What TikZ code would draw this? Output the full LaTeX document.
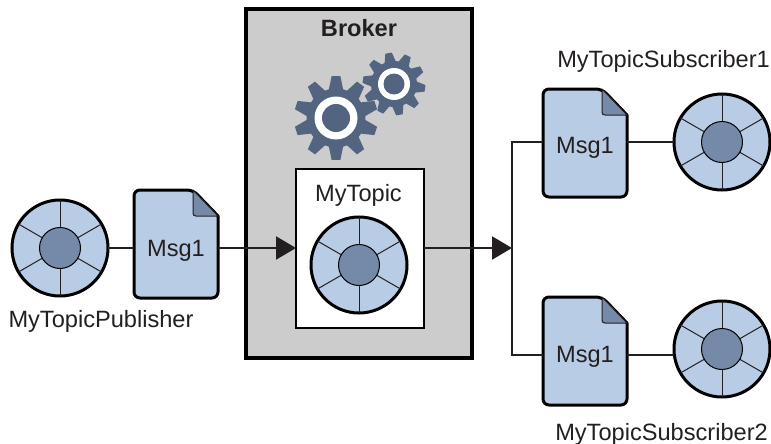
\documentclass[tikz,border=0pt]{standalone}
\usepackage{fontspec}
\setmainfont{Liberation Sans}
\usepackage{xcolor}
\usetikzlibrary{positioning,arrows.meta,calc}
\definecolor{inkdark}{HTML}{231F20}
\definecolor{brokergray}{HTML}{CCCCCC}
\definecolor{msgblue}{HTML}{B9CCE6}
\definecolor{hubblue}{HTML}{7589A8}
\definecolor{gearblue}{HTML}{52647F}
\tikzset{
  wire/.style={draw=inkdark, line width=2.2pt},
  flow/.style={wire, -{Triangle[length=20pt,width=23pt]}},
  wheelrim/.style={circle, draw=black, fill=msgblue, line width=3pt, minimum size=96pt, inner sep=0pt, outer sep=0pt},
  wheelhub/.style={circle, draw=black, fill=hubblue, line width=1pt, minimum size=41pt, inner sep=0pt},
  spoke/.style={draw=inkdark, line width=1pt},
  msgnode/.style={minimum width=84pt, minimum height=108pt, inner sep=0pt, outer sep=0pt},
  caption/.style={text=inkdark, inner sep=0pt, anchor=base}
}
\newcommand{\topicwheel}[2]{
  \node[wheelrim] (#1) at (#2) {};
  \foreach \a in {30,90,...,330}{\draw[spoke] (#1.center) -- (#1.\a);}
  \node[wheelhub] (#1hub) at (#1) {};
}
\newcommand{\msgdoc}[3]{
  \begin{scope}[shift={(#2)}]
    \path[draw=black, fill=msgblue, line width=3pt, line join=round, rounded corners=6pt] (-42,0) -- (-42,-54) -- (17,-54) [sharp corners] -- (42,-28) [rounded corners=6pt] -- (42,54) -- (-42,54) -- cycle;
    \path[draw=inkdark, fill=hubblue, line width=1pt, line join=round] (17,-54) -- (17,-31) .. controls (17,-29) and (18,-28) .. (20,-28) -- (42,-28) -- cycle;
    \node[msgnode] (#1) at (0,0) {};
    \node[caption] (#1text) at (0,#3) {Msg1};
  \end{scope}
}
\newcommand{\gearwheel}[6]{
  \begin{scope}[shift={(#1)}]
    \fill[gearblue] (#2-14:#3) \foreach \k in {0,...,9}{ -- (#2+\k*36-14:#3) -- (#2+\k*36-6:#4) -- (#2+\k*36+6:#4) -- (#2+\k*36+14:#3)} -- cycle;
    \fill[white] (0,0) circle[radius=#5];
    \fill[gearblue] (0,0) circle[radius=#6];
  \end{scope}
}
\begin{document}
\begin{tikzpicture}[x=1pt, y=-1pt, font=\fontsize{23.6}{28}\selectfont]
  \useasboundingbox (0,0) rectangle (771,444);
  \node[draw=black, fill=brokergray, line width=4pt, minimum width=226pt, minimum height=349pt, inner sep=0pt, outer sep=0pt] (broker) at (359,183.5) {};
  \node[caption, font=\fontsize{23.6}{28}\selectfont\bfseries] (brokerlabel) at (359,37) {Broker};
  \gearwheel{394,84}{-100}{23}{31.5}{16}{10.5}
  \gearwheel{336,118}{90}{29.5}{42}{21.5}{14}
  \node[draw=black, fill=white, line width=2.4pt, minimum width=128pt, minimum height=159pt, inner sep=0pt, outer sep=0pt] (topicbox) at (360,248.5) {};
  \node[caption] (topiclabel) at (358.5,201) {MyTopic};
  \topicwheel{topicwheel}{359,265}

  \topicwheel{pubwheel}{60,248}
  \msgdoc{pubmsg}{176,244}{12}
  \node[caption] (publabel) at (101,327.5) {MyTopicPublisher};

  \msgdoc{submsga}{585,143}{10}
  \topicwheel{subwheela}{722,142}
  \node[caption] (sublabela) at (663.5,67) {MyTopicSubscriber1};

  \msgdoc{submsgb}{585,351}{11}
  \topicwheel{subwheelb}{722,349}
  \node[caption] (sublabelb) at (661.5,440) {MyTopicSubscriber2};

  \coordinate (bus) at (512,248);
  \draw[wire] (pubwheel.east) -- (pubmsg.west |- pubwheel.east);
  \draw[flow] (pubmsg.east |- pubwheel.east) -- (topicbox.west |- pubwheel.east);
  \draw[flow] (topicbox.east |- bus) -- (bus);
  \draw[wire] ([yshift=1pt]submsga.west) -| (bus) |- ([yshift=-4pt]submsgb.west);
  \draw[wire] ([yshift=1pt]submsga.east) -- (subwheela.west);
  \draw[wire] ([yshift=-4pt]submsgb.east) -- ([yshift=-6pt]subwheelb.west);
\end{tikzpicture}
\end{document}
